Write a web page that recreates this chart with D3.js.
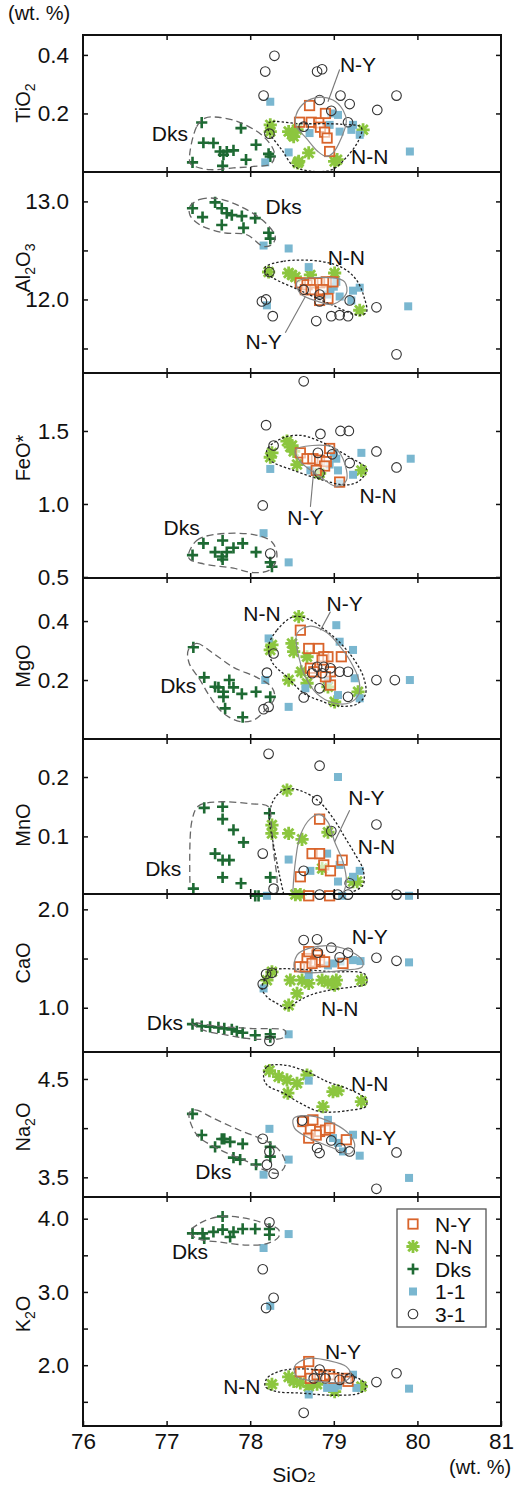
<!DOCTYPE html>
<html><head><meta charset="utf-8">
<script src="https://cdn.jsdelivr.net/npm/d3@7"></script>
<style>body{margin:0;background:#fff} text{font-family:"Liberation Sans",Arial,Helvetica,sans-serif;fill:#111}</style>
</head><body><svg id="c" width="519" height="1486"></svg>
<script>
// ---------------- DATA (SiO2 wt.%, oxide wt.%) ----------------
const xTicks = [76, 77, 78, 79, 80, 81];
const groups = ["N-Y", "N-N", "Dks", "1-1", "3-1"];

// TiO2
const NY_TiO2 = [[78.71,0.227],[78.59,0.170],[78.73,0.170],[78.82,0.168],[78.84,0.153],[78.89,0.136],[78.92,0.116],[78.95,0.070],[78.90,0.200]];
const NN_TiO2 = [[78.24,0.161],[78.24,0.138],[78.46,0.138],[78.50,0.128],[78.52,0.121],[78.56,0.145],[78.70,0.065],[78.58,0.036],[78.57,0.031],[79.04,0.042],[79.01,0.036],[79.35,0.144]];
const DKS_TiO2 = [[77.42,0.169],[77.31,0.033],[77.44,0.100],[77.56,0.099],[77.64,0.070],[77.72,0.070],[77.67,0.021],[77.68,0.059],[77.80,0.074],[77.89,0.150],[77.95,0.042],[78.07,0.093],[78.22,0.062],[78.24,0.053]];
const B11_TiO2 = [[78.24,0.240],[78.18,0.033],[78.46,0.067],[78.71,0.133],[78.97,0.200],[79.05,0.195],[78.95,0.161],[79.07,0.138],[79.23,0.161],[79.31,0.127],[79.21,0.144],[79.91,0.070]];
const C31_TiO2 = [[78.29,0.397],[78.18,0.343],[78.80,0.343],[78.86,0.351],[78.16,0.261],[78.83,0.246],[78.97,0.209],[79.08,0.261],[79.19,0.232],[79.52,0.212],[79.75,0.261],[78.23,0.131],[78.64,0.155],[79.17,0.170]];
const HULL_DKS_TiO2 = [[77.28,0.031],[77.36,0.155],[77.46,0.184],[77.62,0.187],[77.88,0.169],[78.16,0.121],[78.29,0.065],[78.25,0.028],[78.04,0.019],[77.80,0.014],[77.52,0.008],[77.34,0.019]];
const HULL_NN_TiO2 = [[78.22,0.168],[78.60,0.165],[79.10,0.163],[79.33,0.152],[79.30,0.110],[79.15,0.050],[78.98,0.008],[78.75,0.002],[78.52,0.020],[78.38,0.075],[78.22,0.140]];
const HULL_NY_TiO2 = [[78.54,0.184],[78.62,0.229],[78.79,0.254],[78.99,0.246],[79.11,0.212],[79.15,0.173],[79.09,0.116],[78.99,0.065],[78.91,0.053],[78.81,0.070],[78.67,0.116],[78.55,0.156]];

// Al2O3
const NY_Al2O3 = [[78.60,12.17],[78.68,12.15],[78.75,12.17],[78.83,12.17],[78.91,12.18],[78.99,12.18],[78.66,12.10],[78.73,12.10],[78.87,12.10],[78.93,12.01],[78.83,11.99]];
const NN_Al2O3 = [[78.22,12.28],[78.46,12.27],[78.54,12.23],[78.50,12.25],[78.72,12.25],[79.01,12.27],[79.31,11.89]];
const DKS_Al2O3 = [[77.31,12.93],[77.43,12.84],[77.58,12.99],[77.66,12.93],[77.66,12.76],[77.72,12.88],[77.78,12.86],[77.90,12.85],[77.92,12.73],[78.06,12.83],[78.22,12.68],[78.24,12.62]];
const B11_Al2O3 = [[78.16,12.55],[78.46,12.52],[78.70,12.33],[78.96,12.10],[79.07,12.03],[79.31,12.12],[79.21,11.99],[78.20,11.94],[79.89,11.93],[79.23,12.09],[79.03,12.18],[78.92,12.05],[79.00,12.13]];
const C31_Al2O3 = [[78.23,12.28],[78.14,11.98],[78.19,12.00],[78.27,11.83],[78.64,12.10],[78.83,12.05],[78.83,11.98],[78.79,11.78],[78.97,11.83],[79.07,11.84],[79.17,11.83],[79.19,11.99],[79.51,11.92],[79.75,11.44]];
const HULL_DKS_Al2O3 = [[77.28,12.95],[77.40,13.02],[77.60,13.03],[77.88,12.95],[78.16,12.80],[78.30,12.64],[78.26,12.56],[78.16,12.54],[77.96,12.66],[77.68,12.68],[77.40,12.76],[77.28,12.86]];
const HULL_NN_Al2O3 = [[78.18,12.33],[78.40,12.39],[78.83,12.39],[79.11,12.32],[79.27,12.20],[79.36,12.03],[79.39,11.87],[79.29,11.84],[78.99,11.94],[78.60,12.09],[78.27,12.22],[78.18,12.28]];
const HULL_NY_Al2O3 = [[78.56,12.18],[78.99,12.22],[79.13,12.18],[79.15,12.06],[78.99,11.95],[78.81,11.98],[78.60,12.06]];

// FeO*
const NY_FeO = [[78.60,1.35],[78.68,1.31],[78.75,1.31],[78.83,1.30],[78.91,1.29],[78.89,1.26],[78.79,1.23],[78.95,1.38],[79.07,1.15]];
const NN_FeO = [[78.26,1.35],[78.24,1.32],[78.44,1.43],[78.48,1.39],[78.52,1.36],[78.56,1.27],[78.83,1.21],[79.33,1.23],[78.50,1.40]];
const DKS_FeO = [[77.31,0.65],[77.44,0.73],[77.58,0.67],[77.66,0.64],[77.67,0.62],[77.67,0.75],[77.72,0.67],[77.80,0.70],[77.91,0.73],[78.07,0.67],[78.24,0.60],[78.26,0.57]];
const B11_FeO = [[78.16,0.80],[78.46,0.60],[78.24,1.24],[79.33,1.35],[79.92,1.31],[79.23,1.20],[79.05,1.23],[79.03,1.31],[78.72,1.23],[79.07,1.14],[78.95,1.27],[79.00,1.35]];
const C31_FeO = [[78.64,1.84],[78.19,1.54],[78.84,1.48],[79.08,1.50],[79.18,1.50],[79.51,1.36],[79.75,1.25],[79.19,1.28],[78.98,1.34],[78.81,1.35],[78.28,1.40],[78.83,1.21],[78.15,0.99],[78.24,0.66]];
const HULL_DKS_FeO = [[77.26,0.65],[77.36,0.75],[77.56,0.79],[78.04,0.79],[78.26,0.74],[78.32,0.64],[78.24,0.55],[78.04,0.53],[77.80,0.56],[77.44,0.59],[77.28,0.62]];
const HULL_NN_FeO = [[78.20,1.37],[78.38,1.45],[78.60,1.47],[78.83,1.43],[79.19,1.32],[79.39,1.24],[79.31,1.16],[79.15,1.13],[78.83,1.17],[78.52,1.23],[78.24,1.30]];
const HULL_NY_FeO = [[78.54,1.37],[78.99,1.39],[79.11,1.31],[79.15,1.16],[79.03,1.12],[78.83,1.19],[78.60,1.29]];

// MgO
const NY_MgO = [[78.60,0.369],[78.70,0.307],[78.82,0.307],[78.88,0.279],[78.93,0.279],[79.09,0.279],[78.86,0.268],[78.72,0.240],[78.76,0.228],[78.96,0.228],[78.96,0.183],[78.90,0.211]];
const NN_MgO = [[78.58,0.415],[78.26,0.319],[78.24,0.302],[78.50,0.324],[78.52,0.296],[78.68,0.279],[78.46,0.200],[78.61,0.228],[78.93,0.177],[79.01,0.126],[79.29,0.160],[78.68,0.189]];
const DKS_MgO = [[77.32,0.311],[77.45,0.209],[77.58,0.177],[77.62,0.175],[77.68,0.143],[77.75,0.200],[77.80,0.175],[77.90,0.153],[78.07,0.160],[78.24,0.143],[77.70,0.104],[77.91,0.074],[77.68,0.160]];
const B11_MgO = [[78.22,0.341],[79.03,0.386],[79.07,0.330],[79.23,0.302],[78.18,0.200],[78.46,0.109],[79.05,0.149],[79.25,0.206],[79.91,0.200],[78.93,0.200],[78.66,0.172],[79.31,0.138]];
const C31_MgO = [[78.28,0.290],[78.20,0.225],[78.64,0.141],[78.80,0.245],[78.88,0.245],[78.96,0.240],[78.86,0.223],[78.74,0.223],[79.07,0.228],[79.17,0.228],[78.83,0.172],[79.17,0.143],[79.51,0.200],[79.73,0.200],[78.16,0.101],[78.22,0.109]];
const HULL_DKS_MgO = [[77.26,0.302],[77.36,0.324],[77.56,0.290],[77.80,0.243],[78.08,0.209],[78.26,0.175],[78.29,0.138],[78.18,0.098],[78.04,0.064],[77.88,0.059],[77.68,0.087],[77.52,0.143],[77.40,0.200],[77.27,0.257]];
const HULL_NN_MgO = [[78.22,0.315],[78.32,0.369],[78.52,0.415],[78.70,0.406],[78.90,0.369],[79.10,0.319],[79.26,0.262],[79.36,0.206],[79.38,0.153],[79.28,0.119],[79.04,0.112],[78.84,0.130],[78.64,0.155],[78.44,0.211],[78.27,0.257]];
const HULL_NY_MgO = [[78.56,0.358],[78.72,0.383],[78.92,0.360],[79.07,0.315],[79.19,0.268],[79.30,0.200],[79.30,0.153],[79.19,0.123],[78.99,0.123],[78.80,0.153],[78.66,0.211],[78.58,0.279]];

// MnO
const NY_MnO = [[78.83,0.129],[78.74,0.071],[78.83,0.071],[78.88,0.052],[79.10,0.060],[78.96,0.042],[78.60,0.032],[78.70,0.0],[78.95,0.0]];
const NN_MnO = [[78.44,0.178],[78.26,0.119],[78.26,0.105],[78.46,0.105],[78.62,0.095],[78.93,0.107],[78.86,0.046],[79.23,0.024],[79.28,0.024],[78.54,0.002],[78.60,0.002]];
const DKS_MnO = [[77.45,0.148],[77.67,0.150],[77.67,0.129],[77.80,0.111],[77.92,0.090],[77.58,0.071],[77.67,0.060],[77.75,0.060],[77.67,0.031],[77.89,0.021],[78.23,0.139],[78.24,0.031],[77.32,0.012],[78.06,0.0],[78.10,0.0]];
const B11_MnO = [[79.05,0.200],[78.46,0.061],[78.92,0.071],[79.07,0.052],[78.72,0.042],[79.23,0.032],[79.31,0.042],[79.05,0.024],[78.20,0.0],[79.90,0.0],[79.10,0.0]];
const C31_MnO = [[78.22,0.239],[78.83,0.219],[78.80,0.161],[78.97,0.109],[79.51,0.120],[78.15,0.071],[78.64,0.042],[79.19,0.021],[78.28,0.012],[78.83,0.002],[79.17,0.002],[79.75,0.002],[79.05,0.002]];
const HULL_DKS_MnO = [[78.32,0.003],[78.32,0.030],[78.28,0.074],[78.25,0.124],[78.22,0.150],[78.00,0.155],[77.60,0.158],[77.38,0.151],[77.30,0.124],[77.28,0.016]];
const HULL_NN_MnO = [[78.40,0.003],[78.35,0.035],[78.28,0.085],[78.23,0.136],[78.30,0.166],[78.44,0.180],[78.62,0.176],[78.83,0.158],[79.01,0.127],[79.13,0.099],[79.25,0.071],[79.35,0.044],[79.35,0.018],[79.23,0.007]];
const HULL_NY_MnO = [[78.51,0.007],[78.54,0.057],[78.60,0.102],[78.72,0.130],[78.83,0.137],[78.93,0.124],[79.01,0.091],[79.11,0.057],[79.15,0.024],[79.11,0.003]];

// CaO
const NY_CaO = [[78.59,1.416],[78.68,1.50],[78.70,1.57],[78.80,1.535],[78.78,1.467],[78.83,1.484],[78.89,1.467],[79.11,1.45],[78.66,1.416],[78.74,1.45]];
const NN_CaO = [[78.20,1.28],[78.26,1.365],[78.48,1.28],[78.62,1.28],[78.70,1.247],[78.86,1.28],[79.03,1.28],[79.01,1.23],[78.56,1.145],[78.46,1.026],[79.33,1.28],[78.93,1.26]];
const DKS_CaO = [[77.31,0.833],[77.42,0.813],[77.52,0.806],[77.62,0.80],[77.69,0.79],[77.78,0.78],[77.91,0.745],[78.06,0.72],[78.24,0.73],[78.24,0.70],[77.84,0.76]];
const B11_CaO = [[78.16,1.196],[78.70,1.332],[79.32,1.474],[79.90,1.461],[78.99,1.45],[79.23,1.484],[79.08,1.47],[78.93,1.43],[78.46,0.73]];
const C31_CaO = [[78.15,1.24],[78.19,1.342],[78.26,1.355],[78.64,1.688],[78.80,1.695],[78.97,1.61],[78.81,1.559],[79.17,1.559],[79.07,1.512],[79.51,1.508],[79.75,1.477],[78.23,0.663]];
const HULL_DKS_CaO = [[77.30,0.847],[77.60,0.813],[78.00,0.789],[78.42,0.765],[78.40,0.698],[78.20,0.678],[77.96,0.688],[77.72,0.722],[77.44,0.772]];
const HULL_NN_CaO = [[78.24,1.376],[78.99,1.366],[79.37,1.342],[79.39,1.247],[79.23,1.213],[78.95,1.179],[78.72,1.128],[78.56,1.060],[78.44,0.993],[78.32,1.044],[78.20,1.111],[78.14,1.196],[78.18,1.298]];
const HULL_NY_CaO = [[78.54,1.383],[78.56,1.535],[78.70,1.603],[78.99,1.627],[79.21,1.569],[79.34,1.484],[79.34,1.416],[79.15,1.383]];

// Na2O
const NY_Na2O = [[78.63,4.067],[78.75,4.084],[78.72,3.983],[78.83,3.966],[78.90,3.98],[78.70,3.899],[78.79,3.93],[78.95,4.0],[79.15,3.882]];
const NN_Na2O = [[78.23,4.585],[78.44,4.49],[78.56,4.456],[78.68,4.54],[78.45,4.355],[78.99,4.371],[79.05,4.38],[78.87,4.219],[79.33,4.27],[78.34,4.523]];
const DKS_Na2O = [[77.31,4.145],[77.42,3.93],[77.58,3.81],[77.66,3.89],[77.69,3.89],[77.76,3.86],[77.91,3.84],[77.80,3.70],[77.88,3.68],[78.07,3.63],[78.24,3.81],[78.24,3.71]];
const B11_Na2O = [[78.23,3.993],[78.46,3.68],[78.16,3.527],[78.70,4.483],[78.93,4.084],[79.23,3.933],[79.05,3.85],[79.11,3.763],[79.31,3.72],[79.90,3.494],[78.99,3.899]];
const C31_Na2O = [[78.62,4.077],[78.15,3.892],[78.23,3.763],[78.20,3.629],[78.28,3.537],[78.80,3.798],[78.83,3.747],[78.97,3.875],[79.08,3.798],[79.19,3.763],[79.75,3.753],[79.51,3.383]];
const HULL_DKS_Na2O = [[77.27,4.152],[77.34,4.186],[77.56,4.10],[77.88,3.976],[78.20,3.865],[78.36,3.763],[78.42,3.63],[78.34,3.544],[78.18,3.571],[77.96,3.662],[77.60,3.797],[77.36,3.933]];
const HULL_NN_Na2O = [[78.16,4.523],[78.20,4.625],[78.40,4.642],[78.68,4.574],[78.92,4.473],[79.15,4.406],[79.37,4.304],[79.39,4.226],[79.17,4.179],[78.83,4.169],[78.60,4.254],[78.40,4.355],[78.20,4.439]];
const HULL_NY_Na2O = [[78.52,4.10],[78.72,4.125],[78.99,4.051],[79.19,3.933],[79.25,3.814],[79.19,3.74],[78.99,3.798],[78.68,3.909],[78.53,4.0]];

// K2O
const NY_K2O = [[78.70,2.05],[78.60,1.91],[78.72,1.82],[78.80,1.87],[78.88,1.85],[78.95,1.87],[79.00,1.82],[79.15,1.82],[79.17,1.78]];
const NN_K2O = [[78.26,1.74],[78.46,1.84],[78.52,1.78],[78.60,1.76],[78.70,1.71],[79.01,1.64],[79.33,1.71],[78.80,1.74]];
const DKS_K2O = [[77.31,3.80],[77.43,3.80],[77.45,3.73],[77.56,3.82],[77.67,3.85],[77.67,4.03],[77.76,3.75],[77.80,3.82],[77.91,3.86],[78.06,3.86],[78.23,3.78],[78.23,3.86]];
const B11_K2O = [[78.16,3.60],[78.46,3.79],[78.24,2.81],[78.70,1.60],[79.23,1.87],[79.90,1.68],[78.92,1.69],[79.00,1.69],[79.27,1.69],[79.05,1.72]];
const C31_K2O = [[78.23,3.95],[78.15,3.31],[78.28,2.92],[78.19,2.78],[78.64,1.35],[78.83,1.94],[79.07,1.80],[79.19,1.82],[79.51,1.77],[79.75,1.89],[78.76,1.82],[78.90,1.82]];
const HULL_DKS_K2O = [[77.28,3.82],[77.40,3.94],[77.64,4.03],[77.92,4.01],[78.16,3.94],[78.34,3.85],[78.34,3.75],[78.20,3.66],[77.96,3.64],[77.64,3.68],[77.36,3.73]];
const HULL_NN_K2O = [[78.20,1.82],[78.36,1.92],[78.60,1.95],[78.99,1.91],[79.31,1.81],[79.39,1.71],[79.31,1.62],[78.99,1.59],[78.60,1.62],[78.32,1.64],[78.18,1.71]];
const HULL_NY_K2O = [[78.53,1.98],[78.68,2.09],[78.95,2.06],[79.15,1.98],[79.20,1.86],[79.11,1.77],[78.83,1.78],[78.56,1.84]];

// ---------------- LAYOUT / CONFIG ----------------
const W = 519, H = 1486, L = 83, R = 501;
const C = {NY:"#d9642b", NN:"#8cc63f", DKS:"#1e6a33", B11:"#7ab7d0", C31:"#333"};
const panels = [
  {name:["TiO","2",""], top:35, bot:172, domain:[0,0.468], ticks:[0.2,0.4], lab:[0.2,0.4], ty:103,
   NY:NY_TiO2, NN:NN_TiO2, DKS:DKS_TiO2, B11:B11_TiO2, C31:C31_TiO2,
   hulls:[HULL_DKS_TiO2,HULL_NN_TiO2,HULL_NY_TiO2],
   labels:[["Dks",77.04,0.133],["N-Y",79.29,0.366],["N-N",79.43,0.053]],
   leader:[[79.07,0.350],[78.93,0.24]]},
  {name:["Al","2","O","3"], top:172, bot:373, domain:[11.25,13.30], ticks:[11.5,12,12.5,13], lab:[12,13], ty:268,
   NY:NY_Al2O3, NN:NN_Al2O3, DKS:DKS_Al2O3, B11:B11_Al2O3, C31:C31_Al2O3,
   hulls:[HULL_DKS_Al2O3,HULL_NN_Al2O3,HULL_NY_Al2O3],
   labels:[["Dks",78.40,12.95],["N-N",79.15,12.43],["N-Y",78.16,11.57]],
   leader:[[78.42,11.66],[78.66,12.03]]},
  {name:["FeO*"], top:373, bot:578, domain:[0.493,1.897], ticks:[0.5,1,1.5], lab:[0.5,1,1.5], ty:458,
   NY:NY_FeO, NN:NN_FeO, DKS:DKS_FeO, B11:B11_FeO, C31:C31_FeO,
   hulls:[HULL_DKS_FeO,HULL_NN_FeO,HULL_NY_FeO],
   labels:[["Dks",77.18,0.84],["N-N",79.53,1.06],["N-Y",78.66,0.91]],
   leader:[[78.72,0.98],[78.76,1.23]]},
  {name:["MgO"], top:578, bot:739, domain:[0,0.546], ticks:[0.2,0.4], lab:[0.2,0.4], ty:666,
   NY:NY_MgO, NN:NN_MgO, DKS:DKS_MgO, B11:B11_MgO, C31:C31_MgO,
   hulls:[HULL_DKS_MgO,HULL_NN_MgO,HULL_NY_MgO],
   labels:[["Dks",77.14,0.183],["N-N",78.14,0.426],["N-Y",79.13,0.460]],
   leader:[[78.96,0.432],[78.84,0.369]]},
  {name:["MnO"], top:739, bot:894, domain:[0.003,0.264], ticks:[0.1,0.2], lab:[0.1,0.2], ty:825,
   NY:NY_MnO, NN:NN_MnO, DKS:DKS_MnO, B11:B11_MnO, C31:C31_MnO,
   hulls:[HULL_DKS_MnO,HULL_NN_MnO,HULL_NY_MnO], open:true,
   labels:[["Dks",76.96,0.046],["N-Y",79.39,0.166],["N-N",79.51,0.083]],
   leader:[[79.19,0.144],[79.01,0.091]]},
  {name:["CaO"], top:894, bot:1052, domain:[0.55,2.156], ticks:[1,1.5,2], lab:[1,2], ty:963,
   NY:NY_CaO, NN:NN_CaO, DKS:DKS_CaO, B11:B11_CaO, C31:C31_CaO,
   hulls:[HULL_DKS_CaO,HULL_NN_CaO,HULL_NY_CaO],
   labels:[["Dks",76.98,0.85],["N-Y",79.43,1.72],["N-N",79.07,0.99]]},
  {name:["Na","2","O"], top:1052, bot:1197, domain:[3.30,4.774], ticks:[3.5,4,4.5], lab:[3.5,4.5], ty:1127,
   NY:NY_Na2O, NN:NN_Na2O, DKS:DKS_Na2O, B11:B11_Na2O, C31:C31_Na2O,
   hulls:[HULL_DKS_Na2O,HULL_NN_Na2O,HULL_NY_Na2O],
   labels:[["Dks",77.56,3.56],["N-N",79.43,4.456],["N-Y",79.53,3.91]]},
  {name:["K","2","O"], top:1197, bot:1426, domain:[1.17,4.296], ticks:[1.5,2,2.5,3,3.5,4], lab:[2,3,4], ty:1314,
   NY:NY_K2O, NN:NN_K2O, DKS:DKS_K2O, B11:B11_K2O, C31:C31_K2O,
   hulls:[HULL_DKS_K2O,HULL_NN_K2O,HULL_NY_K2O],
   labels:[["Dks",77.28,3.55],["N-Y",79.11,2.19],["N-N",77.90,1.71]]}
];

// ---------------- DRAW ----------------
const svg = d3.select("#c");
svg.append("rect").attr("width",W).attr("height",H).attr("fill","#fff");
const x = d3.scaleLinear().domain([76,81]).range([L,R]);
const fmt = d3.format(".1f");

function marker(g, kind, px, py){
  if(kind==="NY"){
    g.append("rect").attr("x",px-4.7).attr("y",py-4.7).attr("width",9.4).attr("height",9.4)
      .attr("fill","#fff").attr("fill-opacity",0.6).attr("stroke",C.NY).attr("stroke-width",1.8);
  } else if(kind==="NN"){
    const s=6.6;
    g.append("path").attr("d",`M${px-s},${py}H${px+s}M${px},${py-s}V${py+s}M${px-s*0.72},${py-s*0.72}L${px+s*0.72},${py+s*0.72}M${px-s*0.72},${py+s*0.72}L${px+s*0.72},${py-s*0.72}`)
      .attr("stroke",C.NN).attr("stroke-width",2.8).attr("fill","none");
  } else if(kind==="DKS"){
    const s=5.6;
    g.append("path").attr("d",`M${px-s},${py}H${px+s}M${px},${py-s}V${py+s}`)
      .attr("stroke",C.DKS).attr("stroke-width",2.6).attr("fill","none");
  } else if(kind==="B11"){
    g.append("rect").attr("x",px-4).attr("y",py-4).attr("width",8).attr("height",8).attr("fill",C.B11);
  } else {
    g.append("circle").attr("cx",px).attr("cy",py).attr("r",4.8)
      .attr("fill","none").attr("stroke",C.C31).attr("stroke-width",1.1);
  }
}

panels.forEach((p,i)=>{
  const g = svg.append("g");
  const y = d3.scaleLinear().domain(p.domain).range([p.bot,p.top]);
  ["NN","DKS","B11","NY","C31"].forEach(k=>{
    p[k].forEach(d=>marker(g,k,x(d[0]),y(d[1])));
  });
  // hulls
  const closed = d3.line().x(d=>x(d[0])).y(d=>y(d[1])).curve(d3.curveCatmullRomClosed.alpha(0.5));
  const openL = d3.line().x(d=>x(d[0])).y(d=>y(d[1])).curve(d3.curveCatmullRom.alpha(0.5));
  const styles = [{s:"#666",d:"7,4",w:1.3},{s:"#222",d:"2.4,2",w:1.3},{s:"#888",d:null,w:1.2}];
  p.hulls.forEach((h,j)=>{
    const line = p.open ? openL : closed;
    g.append("path").attr("d",line(h)).attr("fill","none").attr("stroke",styles[j].s)
      .attr("stroke-width",styles[j].w).attr("stroke-dasharray",styles[j].d);
  });
  if(p.leader){
    g.append("path").attr("d",d3.line().x(d=>x(d[0])).y(d=>y(d[1]))(p.leader))
      .attr("stroke","#777").attr("stroke-width",1.1).attr("fill","none");
  }
  p.labels.forEach(l=>{
    g.append("text").attr("x",x(l[1])).attr("y",y(l[2])).attr("text-anchor","middle")
      .attr("dy","0.36em").attr("font-size",21).text(l[0]);
  });
  // frame
  g.append("rect").attr("x",L).attr("y",p.top).attr("width",R-L).attr("height",p.bot-p.top)
    .attr("fill","none").attr("stroke","#111").attr("stroke-width",2);
  // axes
  const left = d3.axisLeft(y).tickValues(p.ticks).tickSize(-5).tickPadding(14)
    .tickFormat(v=>p.lab.includes(v)?fmt(v):"");
  const right = d3.axisRight(y).tickValues(p.ticks).tickSize(-5).tickFormat("");
  const top = d3.axisTop(x).tickValues([77,78,79,80]).tickSize(-5).tickFormat("");
  const last = i===panels.length-1;
  const bottom = d3.axisBottom(x).tickValues(last?xTicks:[77,78,79,80]).tickSize(-5).tickPadding(7)
    .tickFormat(last?d3.format("d"):"");
  const ax = [[left,`translate(${L},0)`],[right,`translate(${R},0)`],[top,`translate(0,${p.top})`],[bottom,`translate(0,${p.bot})`]];
  ax.forEach(a=>{
    const ag = g.append("g").attr("transform",a[1]).call(a[0]);
    ag.select(".domain").remove();
    ag.selectAll("line").attr("stroke","#111").attr("stroke-width",1.5);
    ag.selectAll("text").attr("font-size",22.5).attr("font-family",'"Liberation Sans",Arial,sans-serif').attr("fill","#111");
  });
  // title
  const t = g.append("text").attr("transform",`translate(23,${p.ty}) rotate(-90)`)
    .attr("text-anchor","middle").attr("dy","0.36em").attr("font-size",20);
  p.name.forEach((s,j)=>{
    const isSub = (j%2===1) && s!=="" ;
    const tp = t.append("tspan").text(s);
    if(isSub){ tp.attr("font-size",14).attr("dy",5); }
    else if(j>0){ tp.attr("dy",-5); }
  });
});

// unit labels
svg.append("text").attr("x",8).attr("y",20).attr("font-size",20).text("(wt. %)");
svg.append("text").attr("x",449).attr("y",1474).attr("font-size",20).text("(wt. %)");
const st = svg.append("text").attr("x",294).attr("y",1482).attr("text-anchor","middle").attr("font-size",21);
st.append("tspan").text("SiO");
st.append("tspan").attr("font-size",15).text("2");

// legend
const lg = svg.append("g");
lg.append("rect").attr("x",397).attr("y",1209).attr("width",89).attr("height",118)
  .attr("fill","#fff").attr("stroke","#555").attr("stroke-width",1.3);
const keys = ["NY","NN","DKS","B11","C31"];
groups.forEach((name,i)=>{
  const yy = 1224 + i*22.5;
  marker(lg, keys[i], 413, yy);
  lg.append("text").attr("x",435).attr("y",yy).attr("dy","0.36em").attr("font-size",21).text(name);
});
</script></body></html>
